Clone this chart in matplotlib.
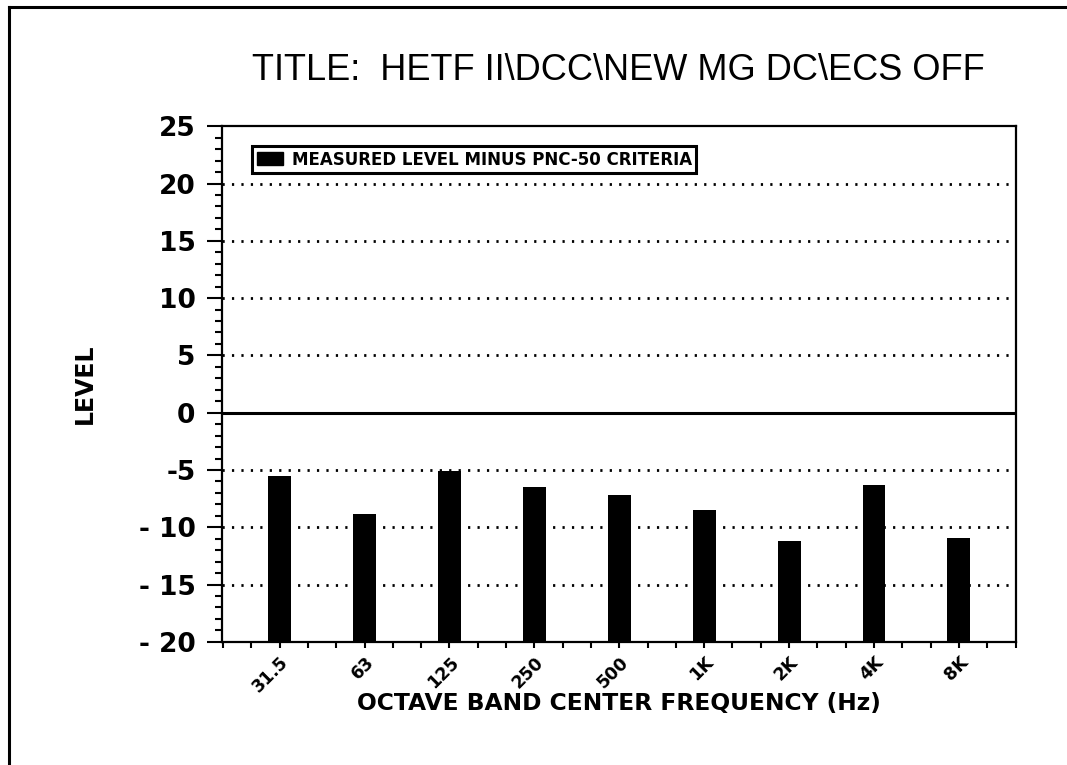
import numpy as np
import matplotlib
matplotlib.use('Agg')
import matplotlib.pyplot as plt
from matplotlib.ticker import FixedLocator, MultipleLocator
from matplotlib.lines import Line2D
from matplotlib.patches import Rectangle

# data
bands = ['31.5', '63', '125', '250', '500', '1K', '2K', '4K', '8K']
level = [-5.5, -8.8, -5.1, -6.5, -7.2, -8.5, -11.2, -6.3, -10.9]
yticks = [-20, -15, -10, -5, 0, 5, 10, 15, 20, 25]
ytick_labels = ['- 20', '- 15', '- 10', '-5', '0', '5', '10', '15', '20', '25']
grid_levels = [-15, -10, -5, 5, 10, 15, 20]

plt.rcParams['font.family'] = ['DejaVu Sans']

fig = plt.figure(figsize=(10.67, 7.65), dpi=100)
ax = fig.add_axes([0.208, 0.161, 0.744, 0.674])

x = np.arange(len(bands))
ymin = -20
ax.bar(x, np.array(level) - ymin, bottom=ymin, width=0.27, color='black', zorder=3)

for g in grid_levels:
    ax.axhline(g, color='black', lw=2, ls=(0, (0.8, 2.6)), zorder=1)
ax.axhline(0, color='black', lw=2.2, zorder=2)

ax.set_xlim(-0.68, 8.67)
ax.set_ylim(-20, 25)

ax.set_xticks(x)
ax.set_xticklabels(bands, rotation=45, ha='right', va='top', rotation_mode='anchor',
                   fontsize=12.5, fontweight='bold')
ax.xaxis.set_minor_locator(FixedLocator(np.arange(-2, 27) / 3.0))
ax.tick_params(axis='x', which='both', direction='out', length=4, width=1.5, pad=4)

ax.set_yticks(yticks)
ax.set_yticklabels(ytick_labels, fontsize=19, fontweight='bold')
ax.yaxis.set_minor_locator(MultipleLocator(1))
ax.tick_params(axis='y', which='major', direction='out', length=11, width=1.5, pad=8)
ax.tick_params(axis='y', which='minor', direction='out', length=5, width=1.5)

for s in ax.spines.values():
    s.set_linewidth(1.6)

ax.set_title('TITLE:  HETF II\\DCC\\NEW MG DC\\ECS OFF', fontsize=26,
             family=['Liberation Sans'], pad=33)
ax.set_xlabel('OCTAVE BAND CENTER FREQUENCY (Hz)', fontsize=16.8, fontweight='bold', labelpad=-3)
ax.set_ylabel('LEVEL', fontsize=17, fontweight='bold', labelpad=30)

handle = Rectangle((0, 0), 1, 1, color='black')
leg = ax.legend([handle], ['MEASURED LEVEL MINUS PNC-50 CRITERIA'],
                loc='upper left', bbox_to_anchor=(0.028, 0.977),
                prop={'size': 12, 'weight': 'bold'}, fancybox=False,
                handlelength=1.6, handleheight=0.8, handletextpad=0.5,
                borderpad=0.25, framealpha=1)
leg.get_frame().set_edgecolor('black')
leg.get_frame().set_linewidth(2.2)

# scanned page border along top and left
fig.add_artist(Line2D([0.008, 1.0], [0.991, 0.991], color='black', lw=2.2))
fig.add_artist(Line2D([0.008, 0.008], [0.0, 0.991], color='black', lw=2.2))

fig.savefig('out.png', dpi=100)
